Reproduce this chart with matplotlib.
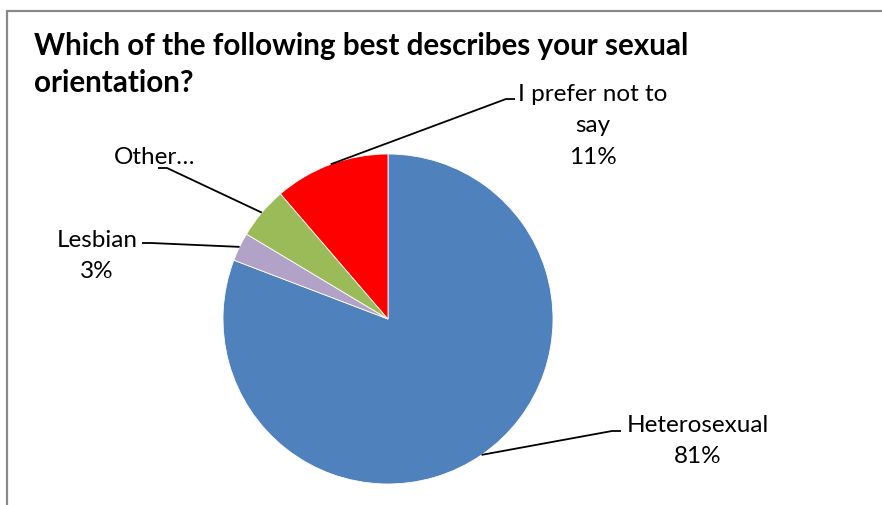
import numpy as np
import matplotlib
matplotlib.use('Agg')
import matplotlib.pyplot as plt
from matplotlib.patches import Rectangle

# survey answers, in drawing order (clockwise from the top)
categories = ['Heterosexual', 'Lesbian', 'Other\u2026', 'I prefer not to\nsay']
shares     = [80.8, 2.8, 5.1, 11.3]
colors     = ['#4f81bd', '#b2a2c7', '#9bbb59', '#ff0000']
show_pct   = [True, True, False, True]

title_lines = ['Which of the following best describes your sexual',
               'orientation?']

# label anchors and elbow points, in pixels (y measured from the top)
label_pos = [(698, 441), (97, 256), (155, 157), (593, 126)]
elbow_pos = [(612, 432), (151, 244), (167, 169), (506, 100)]

W, H = 882, 506
cx, cy, radius = 388, 320, 165

plt.rcParams['font.family'] = ['Lato', 'DejaVu Sans']

fig = plt.figure(figsize=(W / 100, H / 100), dpi=100)
ax = fig.add_axes([0, 0, 1, 1])

wedges, _ = ax.pie(shares, colors=colors, startangle=90, counterclock=False,
                   center=(cx, H - cy), radius=radius,
                   wedgeprops=dict(edgecolor='white', linewidth=0.6))
ax.set_xlim(0, W)
ax.set_ylim(0, H)
ax.axis('off')

# outer chart frame
ax.add_patch(Rectangle((7, -10), W + 20, H - 12 + 10, fill=False,
                       edgecolor='#898989', linewidth=1.6, clip_on=False))

# title, one text per line
for i, line in enumerate(title_lines):
    ax.text(34, H - 46 - 37 * i, line, fontsize=21.3, fontweight='bold',
            ha='left', va='center')

for wedge, name, share, pct, (lx, ly), (ex, ey) in zip(
        wedges, categories, shares, show_pct, label_pos, elbow_pos):
    mid = np.deg2rad((wedge.theta1 + wedge.theta2) / 2)
    px = cx + radius * np.cos(mid)
    py = (H - cy) + radius * np.sin(mid)
    # short horizontal tick near the label, then a straight run to the wedge
    side = 1 if ex > px else -1
    ax.plot([ex + side * 9, ex, px], [H - ey, H - ey, py],
            color='black', linewidth=1.3, solid_capstyle='butt')
    text = name + ('\n%d%%' % round(share) if pct else '')
    ax.text(lx, H - ly, text, fontsize=17.5, ha='center', va='center',
            linespacing=1.6)

fig.savefig('out.png', dpi=100)
